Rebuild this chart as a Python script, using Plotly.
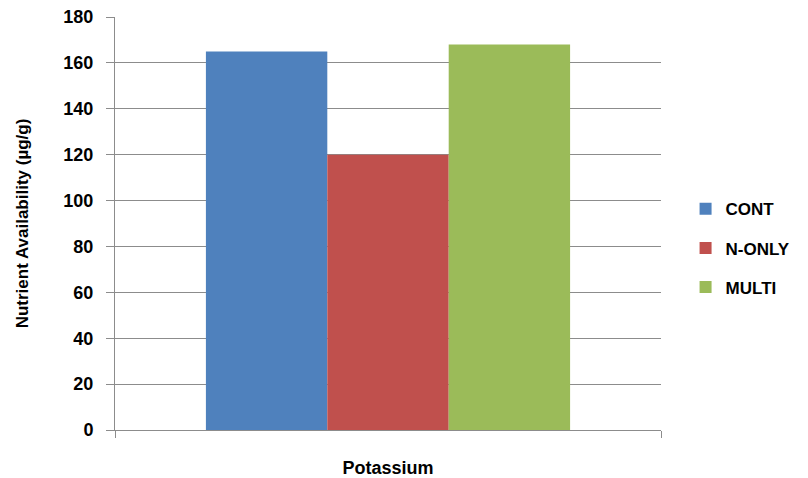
import plotly.graph_objects as go

categories = ["Potassium"]
series_names = ["CONT", "N-ONLY", "MULTI"]
cont = [165]
n_only = [120]
multi = [168]
colors = ["#4F81BD", "#C0504D", "#9BBB59"]

fig = go.Figure()
for i, (name, vals) in enumerate(zip(series_names, [cont, n_only, multi])):
    fig.add_trace(go.Bar(
        x=categories, y=vals, name=name,
        marker=dict(color=colors[i], line=dict(width=0)),
        legendgroup=name,
    ))

font_fam = "Liberation Sans, Arial, sans-serif"
fig.update_layout(
    width=808, height=478,
    margin=dict(l=115, r=140, t=17, b=48),
    paper_bgcolor="white", plot_bgcolor="white",
    barmode="group", bargap=0.333, bargroupgap=0,
    font=dict(family=font_fam, size=14, color="black"),
    legend=dict(
        x=1.045, y=0.44, xanchor="left", yanchor="middle",
        font=dict(family=font_fam, size=17, color="black", weight="bold"),
        tracegroupgap=14, itemwidth=30,
    ),
    showlegend=True,
)
fig.update_yaxes(
    range=[0, 180], dtick=20, automargin=False,
    showgrid=True, gridcolor="#8c8c8c", gridwidth=1,
    showline=True, linecolor="#8c8c8c", linewidth=1,
    ticks="outside", ticklen=8, tickcolor="#8c8c8c",
    tickfont=dict(family=font_fam, size=18, color="black", weight="bold"),
    ticklabelstandoff=9,
    title=dict(text="Nutrient Availability (µg/g)",
               font=dict(family=font_fam, size=17, color="black", weight="bold"),
               standoff=30),
    zeroline=False,
)
fig.update_xaxes(
    showgrid=False, automargin=False,
    showline=True, linecolor="#8c8c8c", linewidth=1,
    ticks="outside", ticklen=7, tickcolor="#8c8c8c", tickson="boundaries",
    tickfont=dict(family=font_fam, size=18, color="black", weight="bold"),
    ticklabelstandoff=21,
)

fig.write_html("out.html")
